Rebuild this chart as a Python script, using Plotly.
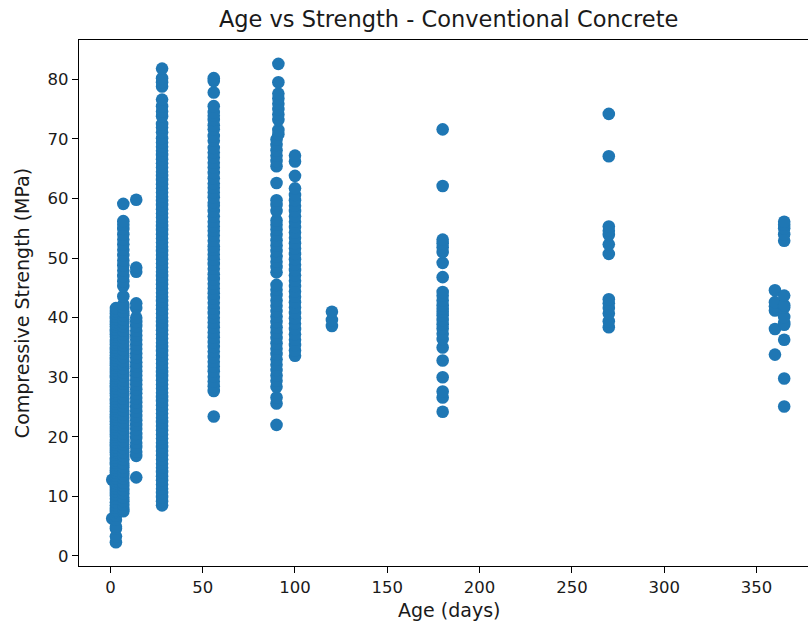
import plotly.graph_objects as go

# Compressive strength (MPa) by curing age (days)
age_1 = [6.3, 12.8]
age_3 = [2.3, 3.3, 4.6, 4.9, 6.1, 6.8, 7.4, 7.7, 8.1, 8.5, 9.0, 9.6, 10.1, 10.4, 10.9,
         11.4, 11.8, 12.2, 12.6, 13.1, 13.5, 14.0, 14.4, 14.8, 15.3, 15.7, 16.1, 16.5,
         17.0, 17.4, 17.8, 18.3, 18.7, 19.1, 19.5, 20.0, 20.4, 20.8, 21.3, 21.7, 22.1,
         22.6, 23.0, 23.4, 23.8, 24.3, 24.7, 25.1, 25.6, 26.0, 26.4, 26.9, 27.3, 27.7,
         28.2, 28.6, 29.0, 29.4, 29.9, 30.3, 30.7, 31.2, 31.6, 32.0, 32.4, 32.9, 33.3,
         33.7, 34.2, 34.6, 35.0, 35.5, 35.9, 36.3, 36.8, 37.2, 37.6, 38.0, 38.5, 38.9,
         39.3, 39.8, 40.2, 40.7, 41.1, 41.6]
age_7 = [7.5, 7.9, 8.6, 9.2, 9.8, 10.5, 11.1, 11.8, 12.3, 13.0, 13.6, 14.2, 14.9, 15.5,
         16.2, 16.8, 17.4, 18.1, 18.7, 19.3, 20.0, 20.6, 21.3, 21.9, 22.5, 23.2, 23.8,
         24.4, 25.1, 25.7, 26.4, 27.0, 27.6, 28.3, 28.9, 29.5, 30.2, 30.8, 31.5, 32.1,
         32.7, 33.4, 34.0, 34.6, 35.3, 35.9, 36.6, 37.2, 37.8, 38.5, 39.1, 39.7, 40.4,
         41.0, 41.7, 42.2, 43.6, 45.3, 46.1, 47.0, 47.9, 48.8, 49.6, 50.5, 51.4, 52.3,
         53.1, 54.0, 54.9, 55.6, 56.2, 59.1]
age_14 = [13.2, 16.8, 17.5, 18.3, 19.0, 19.8, 20.5, 21.3, 22.0, 22.8, 23.5, 24.3, 25.0,
          25.8, 26.5, 27.3, 28.0, 28.8, 29.5, 30.3, 31.0, 31.8, 32.5, 33.3, 34.0, 34.8,
          35.5, 36.3, 37.0, 37.8, 38.6, 39.3, 40.0, 41.6, 42.4, 47.7, 48.4, 59.8]
age_28 = [8.5, 9.2, 9.9, 10.6, 11.3, 12.0, 12.7, 13.4, 14.1, 14.8, 15.5, 16.2, 16.9,
          17.6, 18.3, 19.0, 19.7, 20.4, 21.1, 21.8, 22.5, 23.2, 23.9, 24.6, 25.3, 26.0,
          26.7, 27.4, 28.1, 28.8, 29.5, 30.2, 30.9, 31.6, 32.3, 33.0, 33.7, 34.4, 35.1,
          35.8, 36.5, 37.2, 37.9, 38.6, 39.3, 40.0, 40.7, 41.4, 42.1, 42.8, 43.5, 44.2,
          44.9, 45.6, 46.3, 47.0, 47.7, 48.4, 49.1, 49.8, 50.5, 51.2, 51.9, 52.6, 53.3,
          54.0, 54.7, 55.4, 56.1, 56.8, 57.5, 58.2, 58.9, 59.6, 60.3, 61.0, 61.7, 62.4,
          63.1, 63.8, 64.5, 65.2, 65.9, 66.6, 67.3, 68.0, 68.7, 69.4, 70.1, 71.1, 71.9,
          72.5, 73.8, 74.6, 75.5, 76.6, 78.8, 79.5, 80.2, 81.8]
age_56 = [23.4, 27.7, 28.5, 29.3, 30.1, 31.0, 31.8, 32.6, 33.4, 34.3, 35.1, 35.9, 36.7,
          37.5, 38.4, 39.2, 40.0, 40.8, 41.6, 42.5, 43.3, 44.1, 44.9, 45.7, 46.5, 47.3,
          48.2, 49.0, 49.8, 50.6, 51.4, 52.0, 52.9, 53.8, 54.6, 55.3, 56.1, 57.0, 57.9,
          58.8, 59.3, 60.2, 61.0, 61.8, 62.5, 63.4, 64.3, 65.2, 66.0, 66.9, 67.7, 68.5,
          69.7, 70.5, 71.6, 72.3, 73.2, 73.9, 74.5, 75.5, 77.8, 79.7, 80.2]
age_90 = [22.0, 25.6, 26.6, 28.4, 29.4, 30.3, 31.2, 32.1, 33.0, 33.9, 34.8, 35.7, 36.6,
          37.5, 38.4, 39.3, 40.2, 41.1, 42.0, 42.9, 43.8, 44.7, 45.5, 47.6, 48.5, 49.4,
          50.3, 51.2, 52.1, 53.0, 53.9, 54.8, 55.6, 56.3, 57.9, 58.9, 59.7, 62.6, 65.4,
          66.3, 67.2, 68.1, 69.0, 69.9]
age_91 = [70.8, 71.5, 73.2, 74.1, 75.0, 75.9, 76.8, 77.6, 79.5, 82.6]
age_100 = [33.6, 34.5, 35.4, 36.3, 37.2, 38.1, 39.0, 39.9, 40.8, 41.7, 42.6, 43.5, 44.4,
           45.3, 46.2, 47.1, 48.0, 48.9, 49.8, 50.7, 51.6, 52.5, 53.4, 54.3, 55.2, 56.1,
           57.0, 57.9, 58.8, 59.7, 60.6, 61.7, 63.8, 66.2, 67.2]
age_120 = [38.6, 39.6, 41.0]
age_180 = [24.2, 26.6, 27.6, 30.0, 32.8, 35.0, 36.4, 37.3, 38.2, 38.9, 39.6, 40.4,
           41.0, 41.5, 42.1, 42.9, 43.7, 44.3, 46.8, 49.2, 51.0, 51.8, 52.5, 53.1,
           62.1, 71.6]
age_270 = [38.4, 39.4, 40.7, 41.6, 42.4, 43.1, 50.7, 52.3, 53.9, 54.6, 55.3, 67.1, 74.2]
age_360 = [33.8, 38.1, 41.2, 41.9, 42.6, 44.6]
age_365 = [25.1, 29.8, 36.3, 38.8, 39.1, 40.1, 41.7, 42.1, 43.7, 52.9, 54.0, 55.0, 55.6, 56.1]

groups = [(1, age_1), (3, age_3), (7, age_7), (14, age_14), (28, age_28), (56, age_56),
          (90, age_90), (91, age_91), (100, age_100), (120, age_120), (180, age_180),
          (270, age_270), (360, age_360), (365, age_365)]

xs, ys = [], []
for age, vals in groups:
    xs.extend([age] * len(vals))
    ys.extend(vals)

fig = go.Figure(go.Scatter(
    x=xs, y=ys, mode="markers",
    marker=dict(color="#1f77b4", size=12.6, line=dict(width=0)),
    showlegend=False,
))

font = "DejaVu Sans"
txt = "#1a1a1a"
fig.update_layout(
    width=808, height=627,
    margin=dict(l=79, r=0, t=40, b=61),
    paper_bgcolor="white", plot_bgcolor="white",
    font=dict(family=font, size=17, color=txt),
    title=dict(text="Age vs Strength - Conventional Concrete",
               font=dict(family=font, size=22.5, color=txt),
               xref="paper", x=0.507, xanchor="center",
               yref="container", y=1 - 19 / 627, yanchor="middle"),
    annotations=[dict(text="Age (days)", xref="paper", yref="paper",
                      x=0.507, y=-44 / 526, xanchor="center", yanchor="middle",
                      showarrow=False, font=dict(family=font, size=19, color=txt))],
)
fig.update_xaxes(
    range=[-17.0, 377.9], tickvals=[0, 50, 100, 150, 200, 250, 300, 350],
    showgrid=False, zeroline=False, showline=True, linecolor="black", linewidth=1.3,
    mirror=True, ticks="outside", ticklen=6, tickwidth=1.3, tickcolor="black",
    tickfont=dict(family=font, size=16.5, color=txt),
)
fig.update_yaxes(
    range=[-1.68, 86.6], tickvals=[0, 10, 20, 30, 40, 50, 60, 70, 80],
    showgrid=False, zeroline=False, showline=True, linecolor="black", linewidth=1.3,
    mirror=False, ticks="outside", ticklen=6, tickwidth=1.3, tickcolor="black",
    tickfont=dict(family=font, size=16.5, color=txt),
    title=dict(text="Compressive Strength (MPa)", font=dict(family=font, size=19, color=txt), standoff=12),
)

fig.write_html("out.html")
